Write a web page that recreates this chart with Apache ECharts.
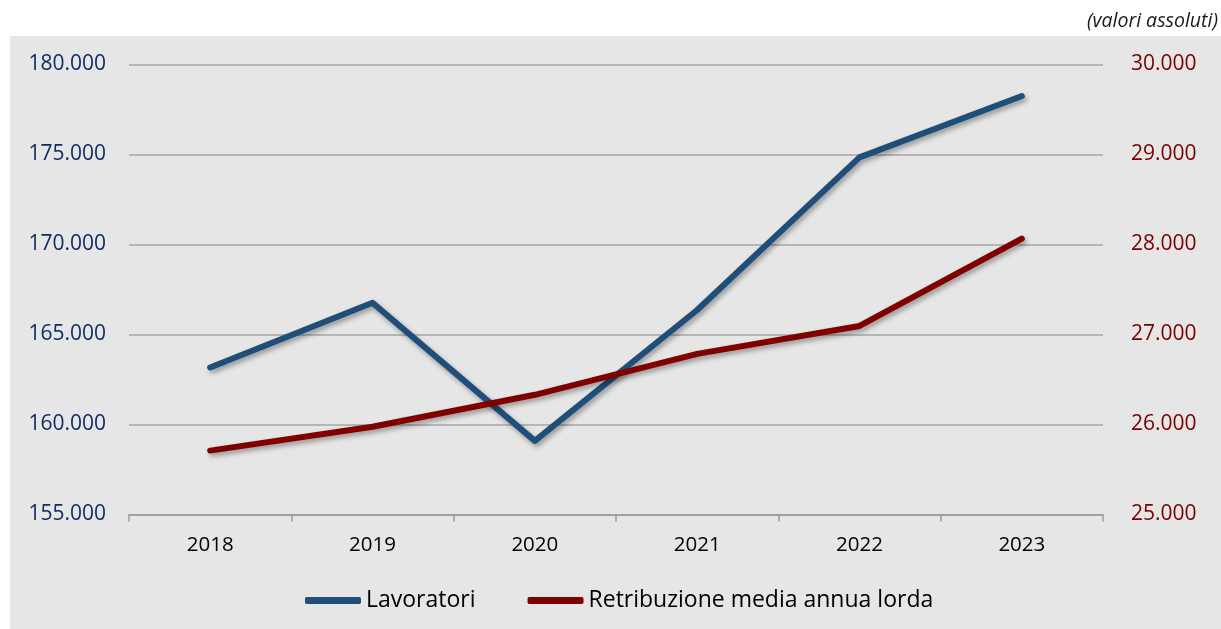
<!DOCTYPE html>
<html>
<head>
<meta charset="utf-8">
<script src="https://cdn.jsdelivr.net/npm/echarts@6/dist/echarts.min.js"></script>
<style>
  html, body { margin: 0; padding: 0; background: #fff; }
  #chart { width: 1221px; height: 629px; }
</style>
</head>
<body>
<div id="chart"></div>
<script>
// dati
var anni = ['2018', '2019', '2020', '2021', '2022', '2023'];
var lavoratori = [163170, 166760, 159090, 166360, 174840, 178250];
var retribuzione = [25710, 25975, 26330, 26785, 27095, 28065];

var nomeLavoratori = 'Lavoratori';
var nomeRetribuzione = 'Retribuzione media annua lorda';

// 180000 -> "180.000"
function puntini(v) {
  return String(v).replace(/\B(?=(\d{3})+(?!\d))/g, '.');
}

var font = '"Open Sans", sans-serif';
var grigioGriglia = '#a6a6a6';

var chart = echarts.init(document.getElementById('chart'));

var option = {
  backgroundColor: '#ffffff',
  animation: false,
  textStyle: { fontFamily: font },
  graphic: [{
    type: 'rect',
    z: -10,
    shape: { x: 10, y: 36, width: 1211, height: 593 },
    style: { fill: '#e6e6e6' }
  }],
  title: {
    text: '(valori assoluti)',
    right: 3,
    top: 11,
    padding: 0,
    textStyle: { fontFamily: font, fontSize: 19.5, fontStyle: 'italic', fontWeight: 'normal', color: '#1a1a1a' }
  },
  legend: {
    left: 305,
    top: 589,
    padding: 0,
    itemWidth: 56,
    itemHeight: 7,
    itemGap: 52,
    icon: 'roundRect',
    textStyle: { fontFamily: font, fontSize: 23, color: '#000' },
    data: [nomeLavoratori, nomeRetribuzione]
  },
  grid: {
    left: 129,
    right: 118,
    top: 64.5,
    bottom: 114.5
  },
  xAxis: {
    type: 'category',
    data: anni,
    boundaryGap: true,
    axisLine: { lineStyle: { color: '#9a9a9a', width: 1.5 } },
    axisTick: { show: true, length: 7, lineStyle: { color: '#9a9a9a', width: 1.5 } },
    axisLabel: { fontFamily: font, fontSize: 20.5, color: '#000', margin: 20 }
  },
  yAxis: [
    {
      type: 'value',
      min: 155000,
      max: 180000,
      interval: 5000,
      axisLine: { show: false },
      axisTick: { show: false },
      splitLine: { lineStyle: { color: grigioGriglia, width: 1.5 } },
      axisLabel: { fontFamily: font, fontSize: 21, color: '#122c66', margin: 23, formatter: puntini }
    },
    {
      type: 'value',
      min: 25000,
      max: 30000,
      interval: 1000,
      position: 'right',
      axisLine: { show: false },
      axisTick: { show: false },
      splitLine: { show: false },
      axisLabel: { fontFamily: font, fontSize: 21, color: '#7a0000', margin: 28, formatter: puntini }
    }
  ],
  series: [
    {
      name: nomeLavoratori,
      type: 'line',
      yAxisIndex: 0,
      data: lavoratori,
      symbol: 'none',
      color: '#1f4e79',
      lineStyle: {
        width: 6, color: '#1f4e79', cap: 'round', join: 'round',
        shadowColor: 'rgba(0,0,0,0.35)', shadowBlur: 5, shadowOffsetX: 2, shadowOffsetY: 3
      }
    },
    {
      name: nomeRetribuzione,
      type: 'line',
      yAxisIndex: 1,
      data: retribuzione,
      symbol: 'none',
      color: '#800000',
      lineStyle: {
        width: 6, color: '#800000', cap: 'round', join: 'round',
        shadowColor: 'rgba(0,0,0,0.35)', shadowBlur: 5, shadowOffsetX: 2, shadowOffsetY: 3
      }
    }
  ]
};

chart.setOption(option);
</script>
</body>
</html>
